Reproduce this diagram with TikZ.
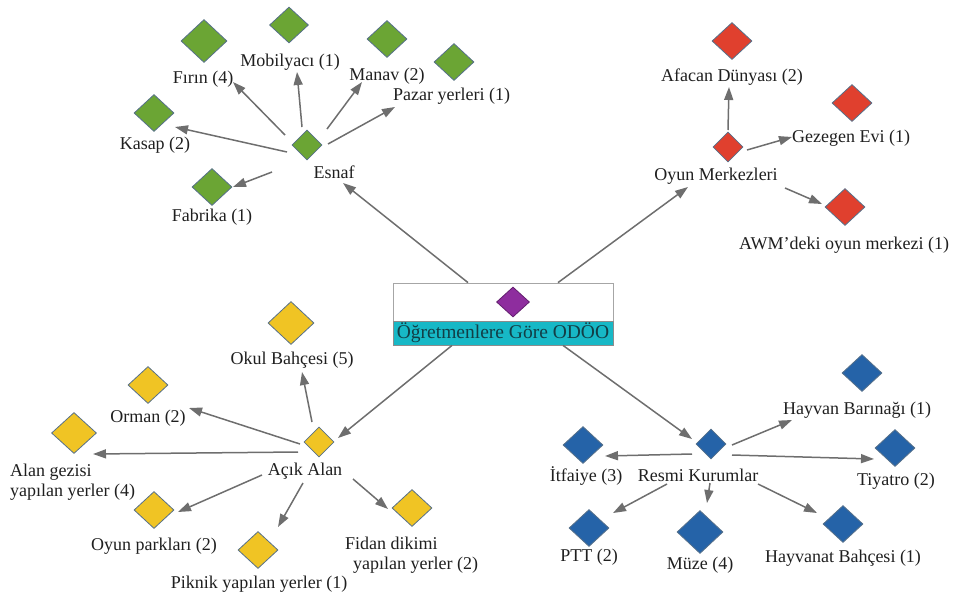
\documentclass[tikz,border=0pt]{standalone}
\usepackage{fontspec}
\setmainfont{LiberationSerif}[Extension=.ttf,UprightFont=*-Regular,BoldFont=*-Bold]
\usetikzlibrary{shapes.geometric,arrows.meta}

\definecolor{esnafgreen}{HTML}{6BA534}
\definecolor{oyunred}{HTML}{E0402E}
\definecolor{acikyellow}{HTML}{F0C424}
\definecolor{resmiblue}{HTML}{2563A8}
\definecolor{corepurple}{HTML}{8E2D9E}
\definecolor{corecyan}{HTML}{17B8C6}
\definecolor{coretext}{HTML}{123E46}
\definecolor{edgegray}{HTML}{6E6E6E}
\definecolor{rimgray}{HTML}{56708A}

\begin{document}
\begin{tikzpicture}[x=1pt,y=-1pt,
  gem/.style={diamond,shape aspect=1,inner sep=0pt,draw=rimgray,line width=0.8pt,
               minimum width=40pt,minimum height=37pt},
  biggem/.style={minimum width=46pt,minimum height=43pt},
  hubgem/.style={minimum width=30pt,minimum height=30pt},
  esnafgem/.style={gem,fill=esnafgreen},
  oyungem/.style={gem,fill=oyunred},
  acikgem/.style={gem,fill=acikyellow},
  resmigem/.style={gem,fill=resmiblue},
  lbl/.style={inner sep=0pt,text=black!88,font=\fontsize{18}{20}\selectfont},
  arr/.style={draw=edgegray,line width=1.5pt,
              -{Triangle[length=13pt,width=9pt]}}]

\useasboundingbox (0,0) rectangle (967,598);

% ---------- central theme ----------
\node[draw=black!35,line width=0.8pt,minimum width=220pt,minimum height=62pt,inner sep=0pt]
  (core) at (503,314) {};
\node[draw=black!45,line width=0.6pt,fill=corecyan,minimum width=220pt,minimum height=24pt,
      inner sep=0pt,text=coretext,font=\fontsize{19.5}{21}\selectfont]
  (coreband) at (503,333) {Öğretmenlere Göre ODÖO};
\node[gem,hubgem,fill=corepurple,minimum width=33pt,minimum height=30pt,draw=corepurple!70!black]
  (coremark) at (513,302) {};

% ---------- Esnaf ----------
\node[esnafgem,hubgem] (esnaf) at (307,145) {};
\node[lbl] (esnafL) at (334,172) {Esnaf};
\node[esnafgem,biggem] (firin) at (204,41) {};
\node[lbl] (firinL) at (203,79) {Fırın (4)};
\node[esnafgem,minimum width=39pt,minimum height=36pt] (mobil) at (289,25) {};
\node[lbl] (mobilL) at (290,62) {Mobilyacı (1)};
\node[esnafgem] (manav) at (387,39) {};
\node[lbl] (manavL) at (387,76) {Manav (2)};
\node[esnafgem] (pazar) at (454,62) {};
\node[lbl,anchor=west] (pazarL) at (393,96) {Pazar yerleri (1)};
\node[esnafgem] (kasap) at (154,113) {};
\node[lbl] (kasapL) at (155,145) {Kasap (2)};
\node[esnafgem] (fabrika) at (212,187) {};
\node[lbl] (fabrikaL) at (212,217) {Fabrika (1)};

% ---------- Oyun Merkezleri ----------
\node[oyungem,hubgem] (oyun) at (728,147) {};
\node[lbl] (oyunL) at (716,176) {Oyun Merkezleri};
\node[oyungem] (afacan) at (732,41) {};
\node[lbl] (afacanL) at (732,77) {Afacan Dünyası (2)};
\node[oyungem] (gezegen) at (852,103) {};
\node[lbl,anchor=west] (gezegenL) at (792,138) {Gezegen Evi (1)};
\node[oyungem] (awm) at (845,207) {};
\node[lbl] (awmL) at (844,245) {AWM'deki oyun merkezi (1)};

% ---------- Açık Alan ----------
\node[acikgem,hubgem] (acik) at (319,442) {};
\node[lbl] (acikL) at (305,471) {Açık Alan};
\node[acikgem,biggem] (okul) at (291,323) {};
\node[lbl] (okulL) at (292,360) {Okul Bahçesi (5)};
\node[acikgem] (orman) at (148,385) {};
\node[lbl] (ormanL) at (148,418) {Orman (2)};
\node[acikgem,minimum width=45pt,minimum height=41pt] (gezi) at (74,433) {};
\node[lbl,anchor=west,align=left] (geziL) at (10,482) {Alan gezisi\\yapılan yerler (4)};
\node[acikgem] (park) at (154,510) {};
\node[lbl] (parkL) at (154,546) {Oyun parkları (2)};
\node[acikgem] (piknik) at (258,550) {};
\node[lbl] (piknikL) at (259,584) {Piknik yapılan yerler (1)};
\node[acikgem] (fidan) at (412,508) {};
\node[lbl,anchor=west,align=left] (fidanL) at (345,555) {Fidan dikimi\\\hspace*{8pt}yapılan yerler (2)};

% ---------- Resmi Kurumlar ----------
\node[resmigem,hubgem] (resmi) at (711,444) {};
\node[lbl] (resmiL) at (698,475) {Resmi Kurumlar};
\node[resmigem] (barinak) at (862,373) {};
\node[lbl,anchor=west] (barinakL) at (783,410) {Hayvan Barınağı (1)};
\node[resmigem] (itfaiye) at (583,445) {};
\node[lbl] (itfaiyeL) at (586,476) {İtfaiye (3)};
\node[resmigem] (tiyatro) at (895,448) {};
\node[lbl] (tiyatroL) at (896,481) {Tiyatro (2)};
\node[resmigem] (ptt) at (589,528) {};
\node[lbl] (pttL) at (589,557) {PTT (2)};
\node[resmigem,biggem] (muze) at (700,532) {};
\node[lbl] (muzeL) at (700,565) {Müze (4)};
\node[resmigem] (bahce) at (843,524) {};
\node[lbl] (bahceL) at (843,558) {Hayvanat Bahçesi (1)};

% ---------- connectors from the theme ----------
\draw[arr] ([xshift=-35pt]core.north) -- ([shift={(9,11)}]esnafL.center);
\draw[arr] ([xshift=55pt]core.north) -- ([shift={(-28,11)}]oyunL.center);
\draw[arr] ([xshift=-51pt]core.south) -- ([shift={(19,-4)}]acik.center);
\draw[arr] ([xshift=60pt]core.south) -- ([shift={(-19,-5)}]resmi.center);

% ---------- Esnaf connectors ----------
\draw[arr] ([shift={(-22,-10)}]esnaf.center) -- ([shift={(30,3)}]firinL.center);
\draw[arr] ([shift={(-5,-18)}]esnaf.center) -- ([shift={(7,10)}]mobilL.center);
\draw[arr] ([shift={(20,-16)}]esnaf.center) -- ([shift={(-25,6)}]manavL.center);
\draw[arr] ([shift={(21,-1)}]esnaf.center) -- ([shift={(2,11)}]pazarL.west);
\draw[arr] ([shift={(-20,7)}]esnaf.center) -- ([shift={(20,-18)}]kasapL.center);
\draw[arr] ([shift={(-35,27)}]esnaf.center) -- ([shift={(21,0)}]fabrika.center);

% ---------- Oyun Merkezleri connectors ----------
\draw[arr] ([shift={(0,-17)}]oyun.center) -- ([shift={(-3,10)}]afacanL.center);
\draw[arr] ([shift={(19,3)}]oyun.center) -- ([shift={(0,-1)}]gezegenL.west);
\draw[arr] ([shift={(69,12)}]oyunL.center) -- ([shift={(-23,-3)}]awm.center);

% ---------- Açık Alan connectors ----------
\draw[arr] ([shift={(-7,-20)}]acik.center) -- ([shift={(10,12)}]okulL.center);
\draw[arr] ([shift={(-19,2)}]acik.center) -- ([shift={(41,-10)}]ormanL.center);
\draw[arr] ([shift={(-21,10)}]acik.center) -- ([shift={(19,21)}]gezi.center);
\draw[arr] ([shift={(-43,4)}]acikL.center) -- ([shift={(24,2)}]park.center);
\draw[arr] ([shift={(-2,12)}]acikL.center) -- ([shift={(20,-23)}]piknik.center);
\draw[arr] ([shift={(48,8)}]acikL.center) -- ([shift={(-24,1)}]fidan.center);

% ---------- Resmi Kurumlar connectors ----------
\draw[arr] ([shift={(21,1)}]resmi.center) -- ([shift={(9,10)}]barinakL.west);
\draw[arr] ([shift={(-19,10)}]resmi.center) -- ([shift={(22,11)}]itfaiye.center);
\draw[arr] ([shift={(21,11)}]resmi.center) -- ([shift={(-21,11)}]tiyatro.center);
\draw[arr] ([shift={(-31,9)}]resmiL.center) -- ([shift={(24,-15)}]ptt.center);
\draw[arr] ([shift={(12,8)}]resmiL.center) -- ([shift={(7,-29)}]muze.center);
\draw[arr] ([shift={(60,9)}]resmiL.center) -- ([shift={(-26,-11)}]bahce.center);

\end{tikzpicture}
\end{document}
